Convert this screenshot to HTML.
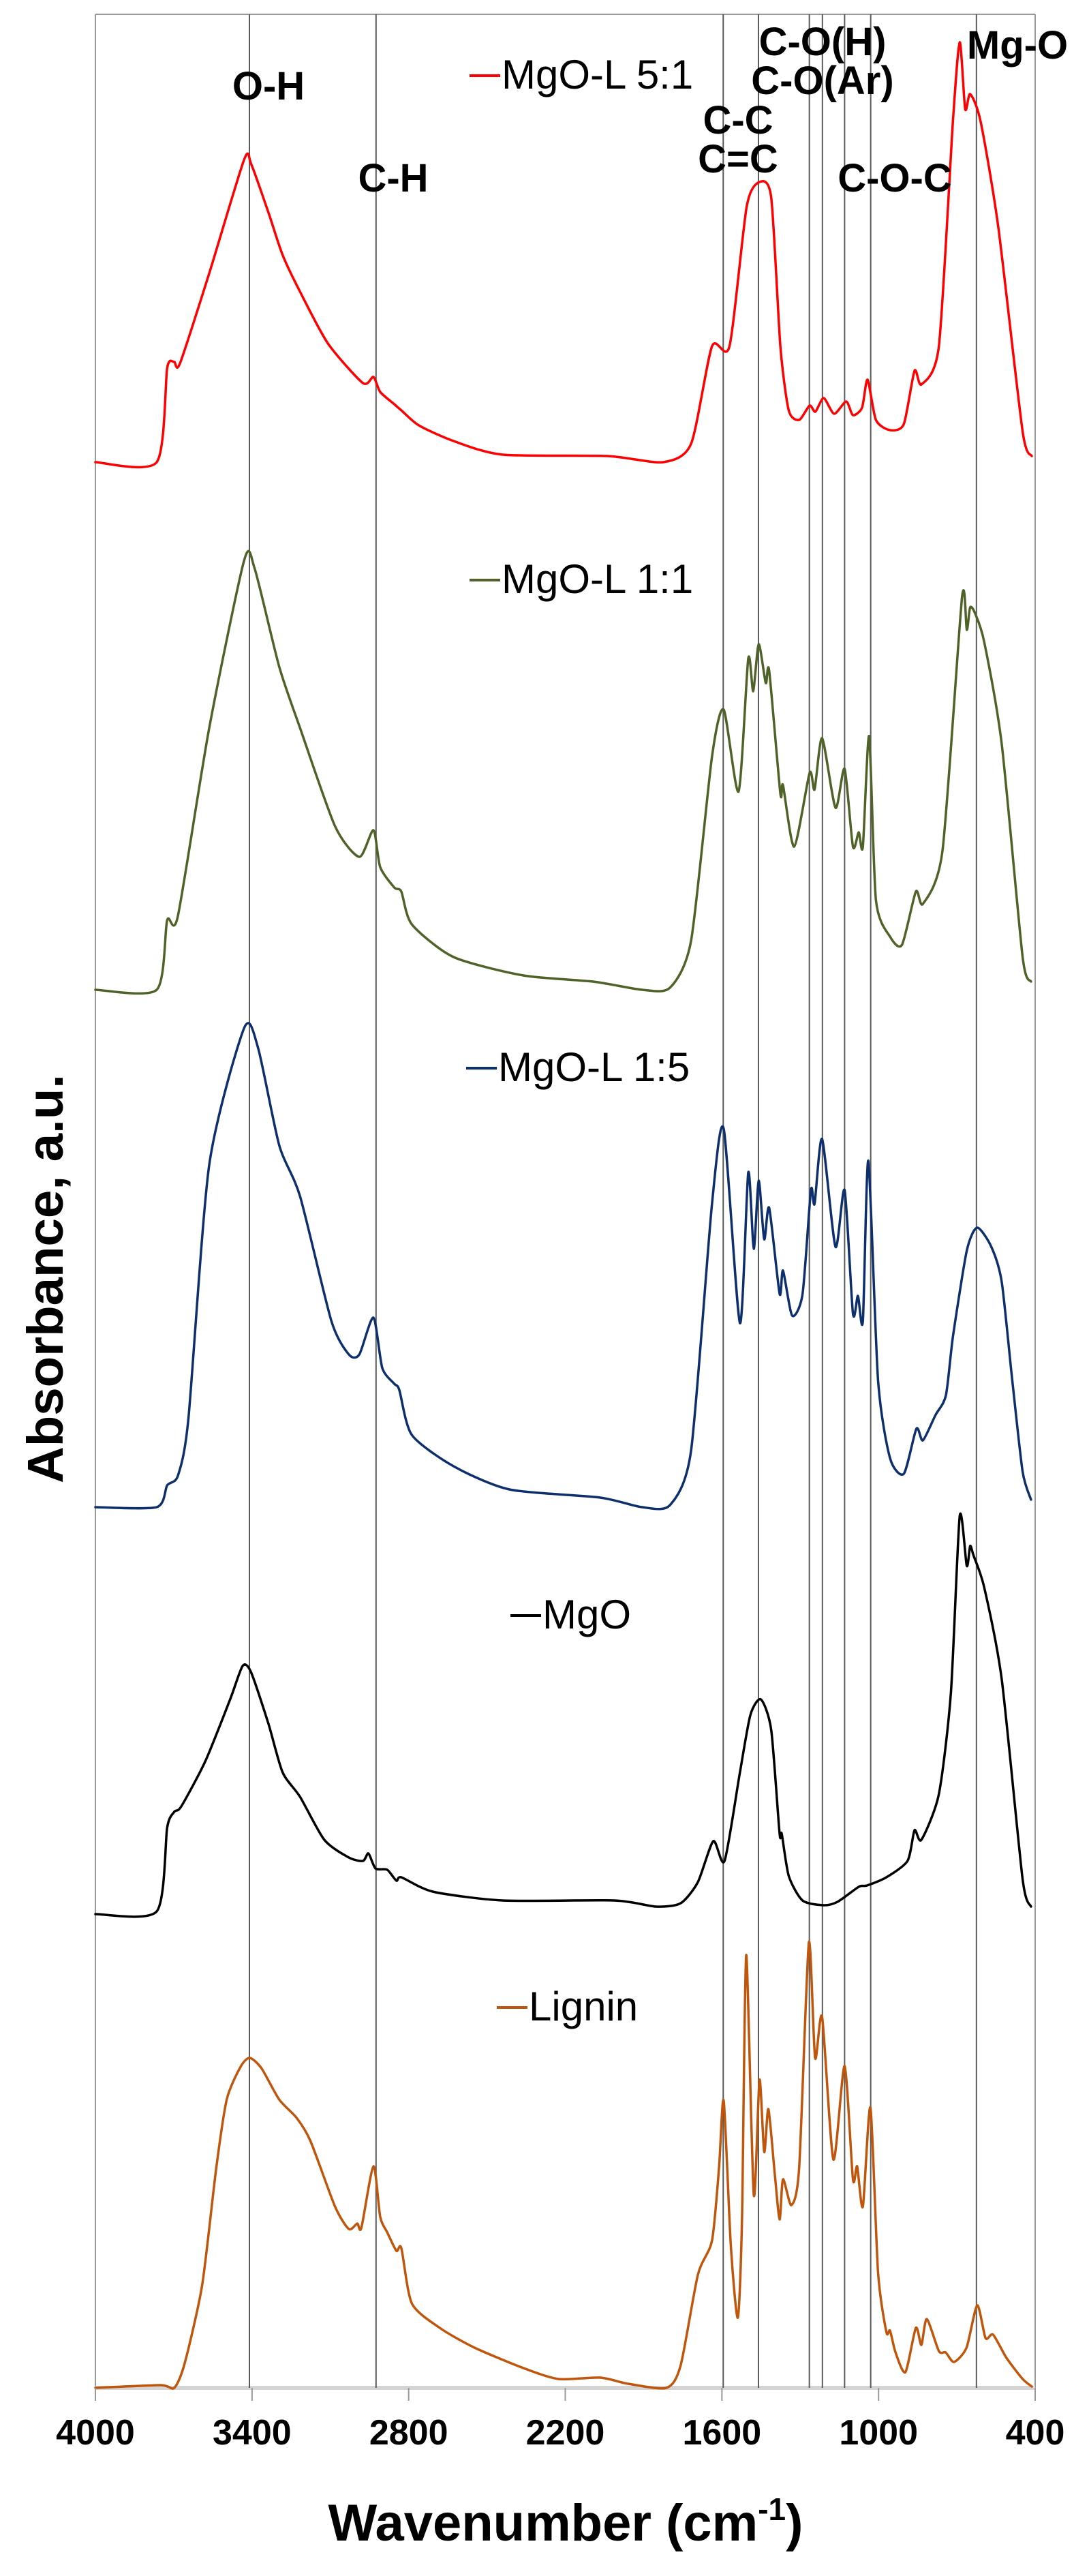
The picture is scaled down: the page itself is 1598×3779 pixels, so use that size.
<!DOCTYPE html>
<html><head><meta charset="utf-8"><style>
html,body{margin:0;padding:0;background:#fff;}
svg{display:block;}
text{font-family:"Liberation Sans",Arial,sans-serif;fill:#000;}
.ann{font-weight:bold;font-size:58px;}
.leg{font-size:60px;}
.tick{font-weight:bold;font-size:52px;}
</style></head><body>
<svg id="chart" width="1598" height="3779" viewBox="0 0 1598 3779" xmlns="http://www.w3.org/2000/svg">
<rect x="0" y="0" width="1598" height="3779" fill="#fff"/>
<g id="frame"></g>
<g id="bands"></g>
<g id="series"></g>
<g id="ticks"></g>
<g>
<text class="ann" x="394" y="146" text-anchor="middle">O-H</text>
<text class="ann" x="577" y="281" text-anchor="middle">C-H</text>
<text class="ann" x="1083" y="196" text-anchor="middle">C-C</text>
<text class="ann" x="1083" y="253" text-anchor="middle">C=C</text>
<text class="ann" x="1207" y="81" text-anchor="middle">C-O(H)</text>
<text class="ann" x="1207" y="138" text-anchor="middle">C-O(Ar)</text>
<text class="ann" x="1313" y="281" text-anchor="middle">C-O-C</text>
<text class="ann" x="1493" y="86" text-anchor="middle">Mg-O</text>
</g>
<g>
<line x1="689" y1="111" x2="734" y2="111" stroke="#ff0000" stroke-width="4"/>
<text class="leg" x="736" y="130">MgO-L 5:1</text>
<line x1="689" y1="851" x2="734" y2="851" stroke="#4f6228" stroke-width="4"/>
<text class="leg" x="736" y="870">MgO-L 1:1</text>
<line x1="684" y1="1567" x2="729" y2="1567" stroke="#0e2f6e" stroke-width="4"/>
<text class="leg" x="731" y="1586">MgO-L 1:5</text>
<line x1="749" y1="2370" x2="794" y2="2370" stroke="#000" stroke-width="4"/>
<text class="leg" x="796" y="2389">MgO</text>
<line x1="729" y1="2945" x2="774" y2="2945" stroke="#c0560c" stroke-width="4"/>
<text class="leg" x="776" y="2964">Lignin</text>
</g>
<text transform="translate(92,1876) rotate(-90)" text-anchor="middle" font-weight="bold" font-size="74" textLength="600" lengthAdjust="spacingAndGlyphs">Absorbance, a.u.</text>
<text x="830" y="3727" text-anchor="middle" font-weight="bold" font-size="76">Wavenumber (cm<tspan font-size="46" dy="-30">-1</tspan><tspan dy="30">)</tspan></text>
</svg>
<script>
const xTicks = [4000, 3400, 2800, 2200, 1600, 1000, 400];
const bandLines = [3410, 2925, 1595, 1460, 1265, 1215, 1130, 1030, 625];
const seriesNames = ["lignin", "mgo", "mgo-l-1-5", "mgo-l-1-1", "mgo-l-5-1"];
const seriesColors = ["#c0560c", "#000000", "#0e2f6e", "#4f6228", "#ff0000"];
const seriesOffsets = [0, 6.95, 12.92, 20.51, 28.25];

const redWn = [4000,3765,3725,3698,3676,3564,3430,3403,3337,3283,3216,3109,2975,2935,2909,2855,2828,2761,2628,2440,2039,1825,1718,1638,1571,1505,1456,1411,1376,1344,1304,1264,1242,1210,1170,1124,1098,1063,1042,1010,956,903,862,836,769,715,689,668,649,609,541,448,413];
const redAbs = [0,0,1.38,1.47,1.45,2.77,4.44,4.37,3.66,3.04,2.50,1.74,1.16,1.25,1.03,0.85,0.76,0.54,0.31,0.11,0.09,0,0.27,1.70,1.70,3.75,4.11,3.88,1.70,0.76,0.62,0.83,0.74,0.94,0.71,0.89,0.69,0.80,1.21,0.62,0.47,0.56,1.34,1.14,1.70,5.00,6.16,5.18,5.40,5.00,3.44,0.45,0.09];

const greenWn = [4000,3765,3725,3684,3564,3430,3390,3296,3216,3082,2989,2935,2909,2855,2828,2788,2628,2360,2093,1906,1799,1718,1638,1593,1536,1499,1480,1459,1432,1419,1376,1366,1323,1264,1245,1216,1165,1130,1098,1076,1060,1036,1010,956,910,857,830,755,680,662,649,630,595,528,448,416];
const greenAbs = [0,0,1.02,1.08,3.84,6.30,6.18,4.74,3.84,2.40,1.95,2.34,1.80,1.50,1.44,0.96,0.48,0.21,0.12,0,0.03,0.72,3.42,4.11,2.91,4.86,4.38,5.07,4.50,4.68,2.88,3.00,2.10,3.18,2.94,3.69,2.67,3.24,2.10,2.31,2.10,3.72,1.32,0.78,0.66,1.44,1.26,2.04,5.76,5.28,5.61,5.52,5.10,3.60,0.48,0.12];

const blueWn = [4000,3765,3725,3684,3644,3564,3430,3377,3296,3216,3096,3029,2989,2935,2901,2855,2836,2788,2628,2414,2066,1906,1799,1718,1638,1593,1531,1499,1478,1459,1438,1419,1379,1366,1331,1291,1259,1245,1216,1165,1130,1098,1079,1060,1039,1002,956,903,855,830,782,742,715,662,622,568,528,488,448,416];
const blueAbs = [0,0,0.32,0.46,1.29,5.02,7.03,6.74,5.31,4.56,2.73,2.24,2.24,2.78,2.04,1.81,1.72,1.06,0.60,0.26,0.14,0,0.03,0.83,4.45,5.55,2.70,4.91,3.79,4.79,3.93,4.39,3.13,3.47,2.81,3.13,4.65,4.45,5.40,3.82,4.65,2.84,3.10,2.73,5.08,1.87,0.72,0.49,1.15,0.98,1.35,1.64,2.50,3.76,4.10,3.82,3.30,1.87,0.52,0.11];

const blackWn = [4000,3765,3725,3698,3671,3578,3484,3436,3404,3337,3283,3216,3123,3029,2975,2954,2927,2882,2847,2828,2708,2440,2012,1852,1758,1692,1633,1590,1531,1491,1451,1411,1379,1371,1344,1291,1210,1157,1076,1044,970,889,862,836,769,723,689,662,649,636,595,528,448,416];
const blackAbs = [0,0.04,1.27,1.50,1.58,2.25,3.15,3.64,3.55,2.79,2.08,1.72,1.09,0.83,0.78,0.89,0.67,0.65,0.49,0.54,0.33,0.20,0.20,0.11,0.16,0.47,1.07,0.78,2.08,2.92,3.15,2.70,1.18,1.18,0.56,0.20,0.13,0.18,0.40,0.42,0.54,0.78,1.23,1.09,1.76,3.24,5.84,5.11,5.40,5.26,4.79,3.44,0.51,0.11];

const ligninWn = [4000,3751,3698,3658,3591,3537,3497,3444,3409,3364,3296,3229,3176,3082,3029,2997,2981,2935,2909,2882,2847,2828,2788,2681,2548,2360,2226,2066,1959,1812,1758,1692,1638,1611,1593,1566,1539,1523,1507,1478,1456,1438,1422,1398,1379,1366,1334,1304,1267,1243,1216,1173,1130,1098,1082,1060,1031,1002,970,956,935,897,857,836,815,769,743,711,663,622,590,561,510,448,413];
const ligninAbs = [0,0.04,0,0.36,1.51,3.23,4.23,4.71,4.84,4.69,4.23,3.96,3.62,2.66,2.33,2.41,2.35,3.25,2.51,2.28,2.01,2.05,1.24,0.88,0.59,0.29,0.13,0.15,0.06,0,0.33,1.66,2.16,3.23,4.21,2.09,1.03,2.47,6.35,2.83,4.52,3.46,4.09,3.16,2.47,3.06,2.68,3.23,6.53,4.84,5.44,3.35,4.72,3.06,3.25,2.66,4.11,1.70,0.82,0.84,0.52,0.23,0.88,0.63,1.01,0.54,0.52,0.38,0.59,1.21,0.73,0.78,0.44,0.13,0.02];

const NS = "http://www.w3.org/2000/svg";
const X0 = 140, X1 = 1519, YBASE = 3503, YTOP = 21, PXU = 100;
function xScale(w){ return X0 + (4000 - w) * (X1 - X0) / 3600; }
function yScale(a, off){ return YBASE - (a + off) * PXU; }
function mk(tag, attrs){ const e = document.createElementNS(NS, tag); for (const k in attrs) e.setAttribute(k, attrs[k]); return e; }
function smoothPath(p){
  const k = 0.12;
  let d = 'M' + p[0][0].toFixed(1) + ',' + p[0][1].toFixed(1);
  for (let i = 0; i < p.length - 1; i++){
    const p0 = p[Math.max(i - 1, 0)], p1 = p[i], p2 = p[i + 1], p3 = p[Math.min(i + 2, p.length - 1)];
    const c1x = p1[0] + (p2[0] - p0[0]) * k, c1y = p1[1] + (p2[1] - p0[1]) * k;
    const c2x = p2[0] - (p3[0] - p1[0]) * k, c2y = p2[1] - (p3[1] - p1[1]) * k;
    d += 'C' + c1x.toFixed(1) + ',' + c1y.toFixed(1) + ' ' + c2x.toFixed(1) + ',' + c2y.toFixed(1) + ' ' + p2[0].toFixed(1) + ',' + p2[1].toFixed(1);
  }
  return d;
}

const frame = document.getElementById('frame');
const fl = mk('line', {x1:X0, y1:YTOP, x2:X0, y2:YBASE+19, stroke:'#9a9a9a', 'stroke-width':2});


frame.appendChild(fl);
const fr = mk('line', {x1:X1, y1:YTOP, x2:X1, y2:YBASE+19, stroke:'#9a9a9a', 'stroke-width':2});


frame.appendChild(fr);
const ft = mk('line', {x1:X0, y1:YTOP, x2:X1, y2:YTOP, stroke:'#9a9a9a', 'stroke-width':2});


frame.appendChild(ft);
const xa = mk('line', {x1:X0, y1:YBASE, x2:X1, y2:YBASE, stroke:'#d4d4d4', 'stroke-width':6});


frame.appendChild(xa);

const bands = document.getElementById('bands');
bandLines.forEach(function(w){
  const l = mk('line', {x1:xScale(w), y1:YTOP, x2:xScale(w), y2:YBASE, stroke:'#5a5a5a', 'stroke-width':2});
  
  
  bands.appendChild(l);
});

const ticks = document.getElementById('ticks');
xTicks.forEach(function(t){
  const x = xScale(t);
  const l = mk('line', {x1:x, y1:YBASE, x2:x, y2:YBASE+19, stroke:'#9a9a9a', 'stroke-width':2});
  
  
  ticks.appendChild(l);
  const tx = mk('text', {x:x, y:3586, 'text-anchor':'middle', 'class':'tick'});
  tx.textContent = t;
  
  
  ticks.appendChild(tx);
});

const seriesWn = [ligninWn, blackWn, blueWn, greenWn, redWn];
const seriesAbs = [ligninAbs, blackAbs, blueAbs, greenAbs, redAbs];
const sg = document.getElementById('series');
for (let i = 0; i < seriesWn.length; i++){
  const pts = seriesWn[i].map(function(w, j){ return [xScale(w), yScale(seriesAbs[i][j], seriesOffsets[i])]; });
  const p = mk('path', {d:smoothPath(pts), fill:'none', stroke:seriesColors[i], 'stroke-width':3.5, 'stroke-linejoin':'round', 'stroke-linecap':'round'});
  
  
  sg.appendChild(p);
}
</script>
</body></html>
